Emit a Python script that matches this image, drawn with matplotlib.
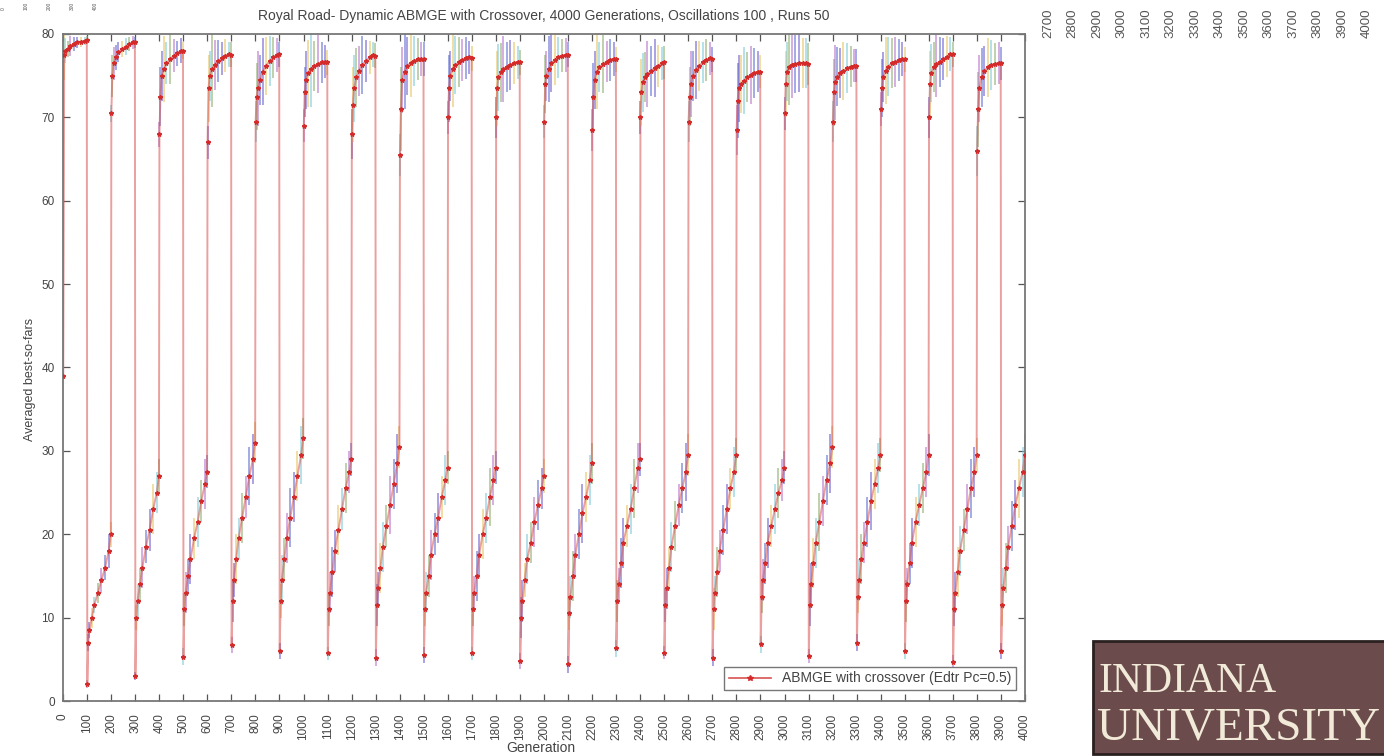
import matplotlib.pyplot as plt
from matplotlib.patches import Rectangle

plt.rcParams['font.family'] = ['Liberation Sans', 'DejaVu Sans']

# generation offsets sampled inside every 100-generation block
seg_offsets = [1, 5, 10, 20, 30, 45, 60, 75, 90, 99]

# high phase blocks start at these generations, low phase blocks 100 later
high_starts = [0, 200, 400, 600, 800, 1000, 1200, 1400, 1600, 1800,
               2000, 2200, 2400, 2600, 2800, 3000, 3200, 3400, 3600, 3800]
low_starts = [100, 300, 500, 700, 900, 1100, 1300, 1500, 1700, 1900,
              2100, 2300, 2500, 2700, 2900, 3100, 3300, 3500, 3700, 3900]

high_vals = [
    [39.0, 77.5, 78.0, 78.2, 78.6, 78.8, 79.0, 79.1, 79.2, 79.3],
    [70.5, 75.0, 76.5, 77.2, 77.8, 78.2, 78.5, 78.8, 79.0, 79.0],
    [68.0, 72.5, 75.0, 75.8, 76.5, 77.0, 77.4, 77.7, 78.0, 78.0],
    [67.0, 73.5, 75.0, 75.8, 76.3, 76.8, 77.1, 77.4, 77.6, 77.5],
    [69.5, 72.5, 73.5, 74.5, 75.5, 76.2, 76.8, 77.2, 77.5, 77.6],
    [69.0, 73.0, 74.5, 75.3, 75.8, 76.2, 76.4, 76.6, 76.7, 76.6],
    [68.0, 71.5, 73.5, 74.8, 75.6, 76.3, 76.8, 77.2, 77.5, 77.4],
    [65.5, 71.0, 74.5, 75.5, 76.2, 76.5, 76.8, 77.0, 77.0, 77.0],
    [70.0, 73.5, 75.0, 75.8, 76.3, 76.6, 76.9, 77.1, 77.2, 77.1],
    [70.0, 73.5, 74.8, 75.4, 75.8, 76.1, 76.3, 76.5, 76.6, 76.6],
    [69.5, 74.0, 75.0, 75.8, 76.5, 76.9, 77.2, 77.4, 77.5, 77.5],
    [68.5, 72.5, 74.5, 75.5, 76.0, 76.4, 76.7, 76.9, 77.0, 77.0],
    [70.0, 73.0, 74.2, 74.8, 75.2, 75.6, 75.9, 76.2, 76.5, 76.6],
    [69.5, 72.5, 74.0, 75.0, 75.7, 76.2, 76.6, 76.9, 77.1, 77.0],
    [68.5, 72.0, 73.5, 74.0, 74.4, 74.8, 75.1, 75.3, 75.5, 75.5],
    [70.5, 74.0, 75.5, 76.0, 76.3, 76.4, 76.5, 76.5, 76.5, 76.4],
    [69.5, 73.0, 74.2, 74.9, 75.3, 75.6, 75.9, 76.1, 76.2, 76.2],
    [71.0, 73.5, 74.8, 75.6, 76.1, 76.5, 76.7, 76.9, 77.0, 77.0],
    [70.0, 74.0, 75.3, 76.0, 76.4, 76.7, 77.0, 77.3, 77.6, 77.6],
    [66.0, 71.0, 73.5, 74.8, 75.6, 76.0, 76.3, 76.4, 76.5, 76.5],
]

low_vals = [
    [2.0, 7.0, 8.5, 10.0, 11.5, 13.0, 14.5, 16.0, 18.0, 20.0],
    [3.0, 10.0, 12.0, 14.0, 16.0, 18.5, 20.5, 23.0, 25.0, 27.0],
    [5.3, 11.0, 13.0, 15.0, 17.0, 19.5, 21.5, 24.0, 26.0, 27.5],
    [6.7, 12.0, 14.5, 17.0, 19.5, 22.0, 24.5, 27.0, 29.0, 31.0],
    [6.0, 12.0, 14.5, 17.0, 19.5, 22.0, 24.5, 27.0, 29.5, 31.5],
    [5.7, 11.0, 13.0, 15.5, 18.0, 20.5, 23.0, 25.5, 27.5, 29.0],
    [5.2, 11.5, 13.5, 16.0, 18.5, 21.0, 23.5, 26.0, 28.5, 30.5],
    [5.5, 11.0, 13.0, 15.0, 17.5, 20.0, 22.0, 24.5, 26.5, 28.0],
    [5.7, 11.0, 13.0, 15.0, 17.5, 20.0, 22.0, 24.5, 26.5, 28.0],
    [4.8, 10.0, 12.0, 14.5, 17.0, 19.0, 21.5, 23.5, 25.5, 27.0],
    [4.4, 10.5, 12.5, 15.0, 17.5, 20.0, 22.5, 24.5, 26.5, 28.5],
    [6.3, 12.0, 14.0, 16.5, 19.0, 21.0, 23.0, 25.5, 28.0, 29.0],
    [5.8, 11.5, 13.5, 16.0, 18.5, 21.0, 23.5, 25.5, 27.5, 29.5],
    [5.2, 11.0, 13.0, 15.5, 18.0, 20.5, 23.0, 25.5, 27.5, 29.5],
    [6.8, 12.5, 14.5, 16.5, 19.0, 21.0, 23.0, 25.0, 26.5, 28.0],
    [5.4, 11.5, 14.0, 16.5, 19.0, 21.5, 24.0, 26.5, 28.5, 30.5],
    [7.0, 12.5, 14.5, 17.0, 19.0, 21.5, 24.0, 26.0, 28.0, 29.5],
    [6.0, 12.0, 14.0, 16.5, 19.0, 21.5, 23.5, 25.5, 27.5, 29.5],
    [4.7, 11.0, 13.0, 15.5, 18.0, 20.5, 23.0, 25.5, 27.5, 29.5],
    [6.0, 11.5, 13.5, 16.0, 18.5, 21.0, 23.5, 25.5, 27.5, 29.5],
]

high_err = [
    [0.5, 3.0, 1.5, 1.0, 1.2, 0.8, 0.7, 0.6, 0.5, 0.5],
    [1.0, 2.5, 2.0, 1.5, 1.2, 1.0, 1.0, 0.8, 0.8, 0.7],
    [1.5, 3.5, 3.0, 4.0, 2.5, 3.0, 2.0, 1.5, 1.5, 1.0],
    [2.0, 4.0, 3.0, 4.5, 3.0, 2.5, 2.0, 2.0, 1.5, 1.5],
    [2.5, 4.0, 4.5, 3.0, 4.0, 3.5, 3.0, 2.5, 2.0, 1.5],
    [2.0, 3.0, 3.5, 4.0, 4.5, 3.0, 3.5, 2.5, 2.0, 1.5],
    [3.0, 4.5, 4.0, 3.5, 3.0, 3.5, 2.5, 2.0, 1.5, 1.5],
    [2.5, 5.0, 4.0, 4.5, 3.5, 4.0, 3.0, 2.5, 2.0, 2.0],
    [2.0, 4.0, 3.0, 4.5, 3.5, 3.0, 2.5, 2.5, 2.0, 1.5],
    [2.5, 4.5, 4.0, 3.5, 4.0, 3.0, 3.0, 2.5, 2.0, 1.5],
    [2.0, 3.5, 3.0, 4.0, 3.5, 3.0, 2.5, 2.0, 2.0, 1.5],
    [2.5, 4.0, 3.5, 4.5, 3.0, 3.5, 2.5, 2.5, 2.0, 1.5],
    [2.0, 4.0, 3.5, 3.0, 4.0, 3.0, 3.5, 2.5, 2.0, 2.0],
    [2.5, 3.5, 4.0, 3.0, 3.5, 3.0, 2.5, 2.5, 2.0, 1.5],
    [3.0, 4.5, 4.0, 3.5, 4.0, 3.0, 3.5, 3.0, 2.5, 2.0],
    [2.0, 4.0, 3.5, 4.5, 4.0, 3.5, 3.5, 3.0, 3.0, 2.5],
    [2.5, 4.0, 4.5, 3.5, 3.0, 3.5, 3.0, 2.5, 2.0, 2.0],
    [2.0, 3.5, 3.0, 4.0, 3.5, 3.0, 3.0, 2.5, 2.0, 1.5],
    [2.5, 4.0, 3.5, 3.0, 4.0, 3.0, 2.5, 2.5, 2.0, 1.5],
    [3.0, 4.5, 4.0, 3.5, 3.0, 3.5, 3.0, 2.5, 2.5, 2.0],
]

low_err = [
    [0.5, 1.0, 1.0, 1.2, 1.0, 1.2, 1.5, 1.5, 2.0, 1.5],
    [0.5, 1.5, 2.0, 2.0, 2.5, 2.0, 2.5, 3.0, 2.5, 2.0],
    [1.0, 2.0, 2.5, 2.0, 3.0, 2.5, 3.0, 2.5, 3.0, 2.0],
    [1.0, 2.5, 2.0, 3.0, 2.5, 3.0, 2.5, 3.5, 3.0, 2.5],
    [1.0, 2.0, 3.0, 2.5, 3.0, 3.5, 3.0, 3.0, 3.5, 2.5],
    [0.8, 2.0, 2.5, 3.0, 2.5, 3.0, 2.5, 3.0, 2.5, 2.0],
    [1.0, 2.5, 2.0, 3.0, 3.0, 2.5, 3.5, 3.0, 3.5, 2.5],
    [1.0, 2.0, 2.5, 2.5, 3.0, 2.5, 3.0, 2.5, 3.0, 2.0],
    [0.8, 2.0, 2.0, 3.0, 2.5, 3.0, 3.0, 3.5, 3.0, 2.0],
    [1.0, 2.5, 2.5, 2.0, 3.0, 2.5, 3.0, 3.0, 2.5, 2.0],
    [1.0, 2.0, 2.5, 3.0, 2.5, 3.0, 3.5, 3.0, 3.0, 2.5],
    [1.0, 2.5, 2.0, 3.0, 3.0, 2.5, 3.0, 3.5, 3.0, 2.0],
    [0.8, 2.0, 2.5, 2.5, 3.0, 3.0, 2.5, 3.0, 3.5, 2.5],
    [1.0, 2.5, 2.0, 3.0, 2.5, 3.0, 3.0, 2.5, 3.0, 2.0],
    [1.0, 2.0, 2.5, 2.5, 3.0, 2.5, 3.0, 3.0, 2.5, 2.0],
    [0.8, 2.5, 2.5, 3.0, 3.0, 3.5, 3.0, 3.0, 3.5, 2.5],
    [1.0, 2.0, 2.5, 3.0, 2.5, 3.0, 3.5, 3.0, 3.0, 2.0],
    [1.0, 2.5, 2.0, 2.5, 3.0, 3.0, 2.5, 3.0, 3.0, 2.5],
    [0.8, 2.0, 2.5, 3.0, 3.0, 2.5, 3.0, 3.5, 3.0, 2.0],
    [1.0, 2.5, 2.5, 3.0, 2.5, 3.0, 3.0, 3.5, 3.0, 2.5],
]

title = 'Royal Road- Dynamic ABMGE with Crossover, 4000 Generations, Oscillations 100 , Runs 50'
legend_label = 'ABMGE with crossover (Edtr Pc=0.5)'
x_ticks = list(range(0, 4001, 100))
y_ticks = [0, 10, 20, 30, 40, 50, 60, 70, 80]
stray_top_labels = ['2700', '2800', '2900', '3000', '3100', '3200', '3300',
                    '3400', '3500', '3600', '3700', '3800', '3900', '4000']
stray_left_labels = ['0', '100', '200', '300', '400']

# assemble the series in generation order
gens, vals, errs = [], [], []
for k in range(len(high_starts)):
    for start, v, e in ((high_starts[k], high_vals[k], high_err[k]),
                        (low_starts[k], low_vals[k], low_err[k])):
        for off, yv, ev in zip(seg_offsets, v, e):
            gens.append(start + off)
            vals.append(yv)
            errs.append(ev)

W, H = 1384, 756
fig = plt.figure(figsize=(W / 100, H / 100), dpi=100)
ax = fig.add_axes([63 / W, 55 / H, 962 / W, 667 / H])

bar_cols = ['#6a5acd', '#e6c35c', '#7cc8d6', '#8cae6a', '#b46ec8', '#5a6ad0']
cols = [bar_cols[i % len(bar_cols)] for i in range(len(gens))]
lo = [v - e for v, e in zip(vals, errs)]
hi = [v + e for v, e in zip(vals, errs)]
ax.vlines(gens, lo, hi, colors=cols, lw=1.2, alpha=0.65, zorder=2)

ax.plot(gens, vals, color='#d9534f', lw=1.4, alpha=0.55, zorder=3)
ax.plot(gens, vals, ls='none', marker='*', ms=3.2, color='#d42a2a', zorder=4)
handle, = ax.plot([], [], color='#d9534f', lw=1.2, marker='*', ms=4,
                  mfc='#d42a2a', mec='#d42a2a')

ax.set_xlim(0, 4000)
ax.set_ylim(0, 80)
ax.set_xticks(x_ticks)
ax.set_xticklabels([str(t) for t in x_ticks], rotation=90, fontsize=8.5, color='#444444')
ax.set_yticks(y_ticks)
ax.set_yticklabels([str(t) for t in y_ticks], fontsize=8.5, color='#444444')
ax.tick_params(direction='in', length=5, width=0.9, color='#555555',
               top=True, right=True, pad=6)
ax.tick_params(axis='x', pad=9)
for s in ax.spines.values():
    s.set_color('#777777')
    s.set_linewidth(1.3)

leg = ax.legend([handle], [legend_label], loc='lower right',
                bbox_to_anchor=(0.991, 0.016), borderaxespad=0,
                fontsize=10, fancybox=False, framealpha=1,
                edgecolor='#777777', handlelength=3.0, borderpad=0.35)
leg.get_frame().set_linewidth(1.0)
for t in leg.get_texts():
    t.set_color('#444444')

fig.text(544 / W, 1 - 16 / H, title, ha='center', va='center', fontsize=10, color='#444444')
fig.text(30 / W, 1 - 379 / H, 'Averaged best-so-fars', rotation=90,
         ha='center', va='center', fontsize=9, color='#444444')
fig.text(541 / W, 1 - 748 / H, 'Generation', ha='center', va='center',
         fontsize=10, color='#444444')

# tick labels of neighbouring slide content
for i, lab in enumerate(stray_top_labels):
    fig.text((1048 + 24.5 * i) / W, 1 - 38 / H, lab, rotation=90,
             ha='center', va='bottom', fontsize=9.5, color='#555555')
for i, lab in enumerate(stray_left_labels):
    fig.text((3 + 23 * i) / W, 1 - 10 / H, lab, rotation=90,
             ha='center', va='bottom', fontsize=3.5, color='#555555')

# university logo
fig.patches.append(Rectangle((1093 / W, 1 - 754 / H), 300 / W, 113 / H,
                             transform=fig.transFigure, facecolor='#6b4b4c',
                             edgecolor='#2a2020', lw=2))
fig.text(1099 / W, 1 - 692 / H, 'INDIANA', ha='left', va='baseline',
         fontsize=30, color='#f2ead8', family='Liberation Serif')
fig.text(1097 / W, 1 - 740 / H, 'UNIVERSITY', ha='left', va='baseline',
         fontsize=34, color='#f2ead8', family='Liberation Serif')

fig.savefig('out.png', dpi=100)
